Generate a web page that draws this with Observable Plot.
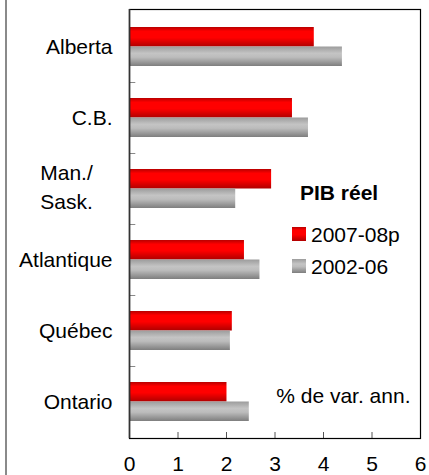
<!DOCTYPE html>
<html><head><meta charset="utf-8">
<script src="https://cdn.jsdelivr.net/npm/d3@7"></script>
<script src="https://cdn.jsdelivr.net/npm/@observablehq/plot@0.6"></script>
<style>
body{margin:0;background:#fff;}
#wrap{position:relative;width:429px;height:475px;overflow:hidden;}
#edge{position:absolute;left:5px;top:0;width:2px;height:475px;background:#8a8a8a;z-index:2;}
</style></head><body>
<div id="wrap"><div id="edge"></div></div>
<script>
const regions = ["Alberta", "C.B.", "Man./Sask.", "Atlantique", "Québec", "Ontario"];
const series = ["2007-08p", "2002-06"];
const recent = [3.81, 3.36, 2.93, 2.37, 2.12, 2.01];   // 2007-08p
const past = [4.39, 3.69, 2.19, 2.69, 2.08, 2.47];     // 2002-06
const xTicks = [0, 1, 2, 3, 4, 5, 6];
const legendTitle = "PIB réel";
const unitNote = "% de var. ann.";

const font = "'Liberation Sans', Arial, sans-serif";
const recentData = regions.map((r, i) => ({region: r, value: recent[i]}));
const pastData = regions.map((r, i) => ({region: r, value: past[i]}));
const single = regions.filter(r => !r.includes("/"));
const multi = regions.filter(r => r.includes("/"));

const chart = Plot.plot({
  width: 429,
  height: 475,
  marginLeft: 129,
  marginRight: 9,
  marginTop: 9,
  marginBottom: 37,
  style: {fontSize: "21px", fontFamily: font, background: "white", color: "#000"},
  x: {domain: [0, 6], ticks: xTicks},
  y: {domain: regions, type: "band", padding: 0, axis: null},
  marks: [
    Plot.barX(recentData, {y: "region", x: "value", fill: "url(#gRed)", insetTop: 16, insetBottom: 35.5}),
    Plot.barX(pastData, {y: "region", x: "value", fill: "url(#gGray)", insetTop: 35.5, insetBottom: 16}),
    // category separator ticks at band tops
    Plot.barX(regions.slice(1), {y: d => d, x1: 0, x2: 0.13, insetBottom: 70.3, fill: "#555"}),
    Plot.axisX({ticks: xTicks, tickSize: -6, tickFormat: () => "", label: null, stroke: "#555"}),
    Plot.axisX({ticks: xTicks, tickSize: 0, tickPadding: 18, tickFormat: d => String(d), label: null, fontSize: 21, fill: "#000"}),
    Plot.frame({stroke: "#000", strokeWidth: 1.2}),
    Plot.ruleX([0], {stroke: "#333", strokeWidth: 1.6}),
    Plot.text(single, {y: d => d, text: d => d, frameAnchor: "left", textAnchor: "end", dx: -17, fontSize: 21, fill: "#000"}),
    Plot.text(multi, {y: d => d, text: d => d.replace("/", "/\n"), frameAnchor: "left", textAnchor: "middle", dx: -63, dy: -3.5, lineHeight: 1.38, fontSize: 21, fill: "#000"}),
    Plot.text([unitNote], {text: d => d, frameAnchor: "bottom-right", textAnchor: "end", dx: -10, dy: -35.7, fontSize: 21, fill: "#000"})
  ]
});

const svg = d3.select(chart);
const defs = svg.insert("defs", ":first-child");
const gr = defs.append("linearGradient").attr("id", "gRed").attr("x1", 0).attr("y1", 0).attr("x2", 0).attr("y2", 1);
[[0, "#b80000"], [0.22, "#ff0000"], [0.55, "#ff0000"], [1, "#b00000"]].forEach(([o, c]) => gr.append("stop").attr("offset", o).attr("stop-color", c));
const gg = defs.append("linearGradient").attr("id", "gGray").attr("x1", 0).attr("y1", 0).attr("x2", 0).attr("y2", 1);
[[0, "#9c9c9c"], [0.35, "#c4c4c4"], [0.55, "#bcbcbc"], [1, "#7e7e7e"]].forEach(([o, c]) => gg.append("stop").attr("offset", o).attr("stop-color", c));

// legend
const leg = svg.append("g").attr("font-family", font).attr("font-size", 21).attr("fill", "#000").attr("text-anchor", "start");
leg.append("text").attr("x", 300).attr("y", 200).attr("font-weight", "bold").text(legendTitle);
const swFill = ["url(#gRed)", "url(#gGray)"];
series.forEach((s, i) => {
  const yTop = 227 + i * 32;
  leg.append("rect").attr("x", 292).attr("y", yTop).attr("width", 14).attr("height", 14).attr("fill", swFill[i]);
  leg.append("text").attr("x", 311).attr("y", yTop + 14.5).text(s);
});

const wrap = document.getElementById("wrap");
chart.style.position = "absolute";
chart.style.left = "0";
chart.style.top = "0";
wrap.insertBefore(chart, wrap.firstChild);
</script>
</body></html>
